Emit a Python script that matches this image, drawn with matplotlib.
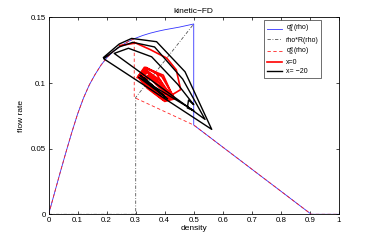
import matplotlib
matplotlib.use("Agg")
import matplotlib.pyplot as plt

plt.rcParams['font.family'] = ['Liberation Sans', 'DejaVu Sans']

# rising branch shared by q1^e and q2^e
rise_rho = [0.0, 0.02, 0.04, 0.06, 0.08, 0.1, 0.12, 0.14, 0.16, 0.18, 0.2, 0.225, 0.25,
            0.275, 0.295]
rise_val = [0.0, 0.016, 0.032, 0.0475, 0.0625, 0.0765, 0.0885, 0.0985, 0.1065, 0.1135, 0.1192,
            0.1245, 0.1285, 0.1317, 0.1338]

# q1^e(rho): continues to 0.5, then drops
q1_rho = rise_rho + [0.325, 0.35, 0.375, 0.4, 0.425, 0.45, 0.475, 0.5, 0.5, 0.905, 1.0]
q1_val = rise_val + [0.1363, 0.138, 0.1394, 0.1406, 0.1416, 0.1426, 0.1438, 0.145, 0.068, 0.0, 0.0]

# rho*R(rho)
rr_rho = [0.0, 0.3, 0.3, 0.5]
rr_val = [0.0, 0.0, 0.089, 0.145]

# q2^e(rho)
q2_rho = rise_rho + [0.295, 0.5, 0.905, 1.0]
q2_val = rise_val + [0.089, 0.068, 0.0, 0.0]

# trajectory at x = 0
x0_rho = [0.245, 0.30, 0.35, 0.407, 0.44, 0.455, 0.425, 0.40, 0.37, 0.335,
          0.305, 0.33, 0.39, 0.435, 0.40, 0.34,
          0.31, 0.34, 0.395, 0.43, 0.395, 0.34,
          0.308, 0.335, 0.385, 0.43, 0.395, 0.34,
          0.312, 0.34, 0.38, 0.425, 0.39, 0.345,
          0.315, 0.34, 0.38, 0.42, 0.39, 0.345,
          0.32, 0.345, 0.375, 0.41, 0.385, 0.35,
          0.325, 0.35, 0.372, 0.405, 0.38, 0.352,
          0.33, 0.35, 0.37, 0.40, 0.38, 0.355, 0.34]
x0_val = [0.1285, 0.1305, 0.1255, 0.119, 0.110, 0.095, 0.091, 0.096, 0.108, 0.112,
          0.104, 0.112, 0.105, 0.088, 0.086, 0.096,
          0.104, 0.111, 0.106, 0.089, 0.087, 0.097,
          0.105, 0.110, 0.102, 0.088, 0.088, 0.097,
          0.104, 0.109, 0.101, 0.089, 0.088, 0.098,
          0.103, 0.108, 0.100, 0.090, 0.089, 0.099,
          0.103, 0.106, 0.099, 0.091, 0.091, 0.099,
          0.1025, 0.105, 0.0995, 0.092, 0.092, 0.099,
          0.102, 0.104, 0.099, 0.093, 0.093, 0.099, 0.101]

# trajectory at x = -20
xm20_rho = [0.189, 0.243, 0.286, 0.372, 0.470, 0.562,
            0.190, 0.243, 0.29, 0.365, 0.462, 0.539,
            0.226, 0.275, 0.355, 0.445, 0.50, 0.482, 0.478, 0.50,
            0.31, 0.41, 0.315, 0.40, 0.33]
xm20_val = [0.1195, 0.1297, 0.134, 0.1315, 0.1086, 0.0647,
            0.1185, 0.1275, 0.131, 0.1275, 0.103, 0.0723,
            0.1226, 0.1265, 0.120, 0.099, 0.0835, 0.087, 0.081, 0.079,
            0.1045, 0.088, 0.106, 0.0895, 0.104]

fig = plt.figure(figsize=(3.74, 2.42), dpi=100)
ax = fig.add_axes([0.130, 0.1145, 0.776, 0.8135])

ax.plot(q1_rho, q1_val, color="#3333ff", lw=0.6, label=r"q$_1^e$(rho)")
ax.plot(rr_rho, rr_val, color="#555555", lw=0.6, ls="-.", dashes=(4, 2, 1, 2), label="rho*R(rho)")
ax.plot(q2_rho, q2_val, color="#ff2222", lw=0.6, ls="--", dashes=(4, 3), label=r"q$_2^e$(rho)")
ax.plot(x0_rho, x0_val, color="#ff0000", lw=1.2, label="x=0")
ax.plot(xm20_rho, xm20_val, color="#000000", lw=1.0, label="x= \u221220")

ax.set_xlim(0, 1)
ax.set_ylim(0, 0.15)
ax.set_xticks([0, 0.1, 0.2, 0.3, 0.4, 0.5, 0.6, 0.7, 0.8, 0.9, 1])
ax.set_xticklabels(["0", "0.1", "0.2", "0.3", "0.4", "0.5", "0.6", "0.7", "0.8", "0.9", "1"])
ax.set_yticks([0, 0.05, 0.1, 0.15])
ax.set_yticklabels(["0", "0.05", "0.1", "0.15"])
ax.tick_params(direction="in", length=2.5, width=0.5, labelsize=5.7, top=True, right=True, pad=2)
for s in ax.spines.values():
    s.set_linewidth(0.6)

ax.set_xlabel("density", fontsize=6, labelpad=1)
ax.set_ylabel("flow rate", fontsize=6, labelpad=4)
ax.set_title("kinetic\u2212FD", fontsize=6, pad=3)

leg = ax.legend(loc="upper right", bbox_to_anchor=(0.94, 0.985), fontsize=5, frameon=True,
                fancybox=False, edgecolor="black", handlelength=2.1, borderpad=0.4,
                labelspacing=0.25, handletextpad=0.6, borderaxespad=0.0)
leg.get_frame().set_linewidth(0.5)

fig.savefig("out.png", dpi=100)
